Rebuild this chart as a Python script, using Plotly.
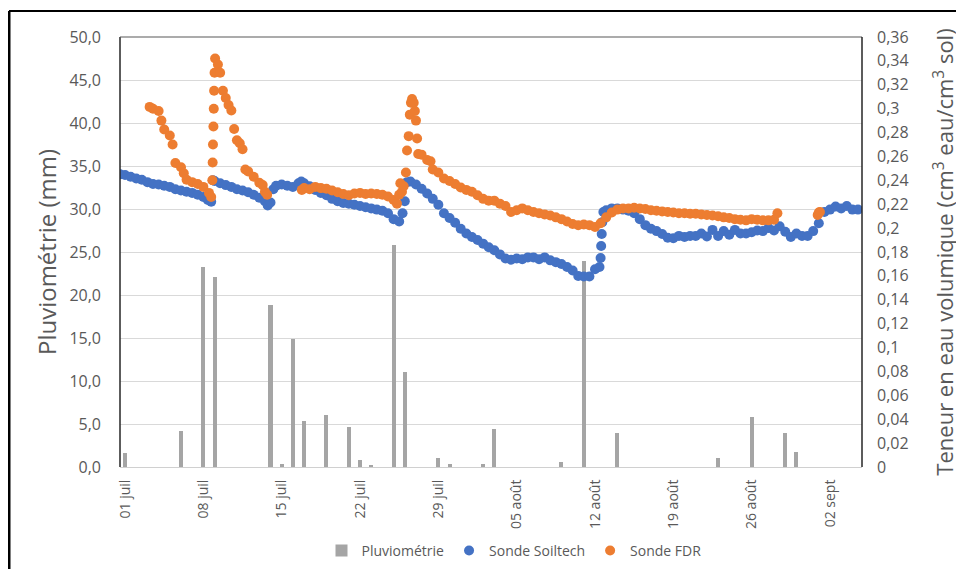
import pandas as pd
import plotly.graph_objects as go

# ---------------- DATA ----------------
origine = pd.Timestamp("2021-07-01")

# Pluviométrie journalière (mm)
pluie_dates = ["2021-07-01", "2021-07-06", "2021-07-08", "2021-07-09", "2021-07-14", "2021-07-15",
               "2021-07-16", "2021-07-17", "2021-07-19", "2021-07-21", "2021-07-22", "2021-07-23",
               "2021-07-25", "2021-07-26", "2021-07-29", "2021-07-30", "2021-08-02", "2021-08-03",
               "2021-08-09", "2021-08-11", "2021-08-14", "2021-08-23", "2021-08-26", "2021-08-29",
               "2021-08-30"]
pluie_mm = [1.6, 4.2, 23.3, 22.1, 18.8, 0.4,
            14.9, 5.3, 6.1, 4.7, 0.8, 0.2,
            25.8, 11.1, 1.0, 0.4, 0.4, 4.4,
            0.6, 24.0, 3.9, 1.0, 5.8, 3.9,
            1.7]

# Sonde Soiltech : jours depuis le 1er juillet, teneur en eau (cm3/cm3)
soiltech_jours = [-0.45, 0.0, 0.5, 1.0, 1.5, 2.0, 2.5, 3.0, 3.5, 4.0, 4.5, 5.0, 5.5, 6.0, 6.5, 7.0,
                  7.4, 7.7, 7.85, 8.0, 8.5, 9.0, 9.5, 10.0, 10.5, 11.0, 11.5, 12.0, 12.5, 12.75, 13.0,
                  13.25, 13.5, 14.0, 14.5, 15.0, 15.5, 15.75, 16.0, 16.5, 17.0, 17.5, 18.0, 18.5,
                  19.0, 19.5, 20.0, 20.5, 21.0, 21.5, 22.0, 22.5, 23.0, 23.5, 24.0, 24.5, 24.8,
                  25.0, 25.2, 25.5, 26.0, 26.5, 27.0, 27.5, 28.0, 28.5, 29.0, 29.5, 30.0, 30.5,
                  31.0, 31.5, 32.0, 32.5, 33.0, 33.5, 34.0, 34.5, 35.0, 35.5, 36.0, 36.5, 37.0,
                  37.5, 38.0, 38.5, 39.0, 39.5, 40.0, 40.5, 41.0, 41.5, 42.0, 42.4, 42.5, 42.55,
                  42.6, 42.65, 42.75, 43.0, 43.5, 44.0, 44.5, 45.0, 45.5, 46.0, 46.5, 47.0, 47.5,
                  48.0, 48.5, 49.0, 49.5, 50.0, 50.5, 51.0, 51.5, 52.0, 52.5, 53.0, 53.5, 54.0,
                  54.5, 55.0, 55.5, 56.0, 56.5, 57.0, 57.5, 58.0, 58.5, 59.0, 59.5, 60.0, 60.5,
                  61.0, 61.5, 62.0, 62.5, 63.0, 63.5, 64.0, 64.5, 65.0, 65.5]
soiltech_teneur = [0.245, 0.2445, 0.243, 0.2415, 0.2405, 0.2385, 0.237, 0.2365, 0.2355, 0.2345, 0.2325,
                   0.2315, 0.2305, 0.2295, 0.228, 0.226,
                   0.2235, 0.222, 0.240, 0.2395, 0.2375, 0.236, 0.2345, 0.2325, 0.2315, 0.230, 0.228,
                   0.2255, 0.2225, 0.219, 0.2215,
                   0.2325, 0.2355, 0.2365, 0.2355, 0.2345, 0.2375, 0.239, 0.2375, 0.235, 0.232, 0.2295,
                   0.2275, 0.2245,
                   0.2225, 0.221, 0.2205, 0.2195, 0.2185, 0.2175, 0.2165, 0.2155, 0.2145, 0.2125,
                   0.2075, 0.2055, 0.2125,
                   0.2225, 0.2385, 0.239, 0.2365, 0.233, 0.229, 0.2245, 0.2195, 0.2125, 0.2085, 0.2045,
                   0.1995, 0.1955,
                   0.1925, 0.190, 0.187, 0.184, 0.1815, 0.178, 0.1745, 0.1735, 0.1745, 0.174, 0.1755,
                   0.1755, 0.174,
                   0.1755, 0.173, 0.1715, 0.170, 0.1675, 0.1645, 0.160, 0.1595, 0.1595, 0.1655,
                   0.1675, 0.175, 0.185,
                   0.195, 0.205, 0.2135, 0.215, 0.2165, 0.2165, 0.2155, 0.2145, 0.2125, 0.2075,
                   0.2025, 0.1995, 0.1975,
                   0.195, 0.192, 0.1915, 0.1935, 0.1925, 0.1935, 0.1935, 0.1955, 0.193, 0.1985,
                   0.1935, 0.1975, 0.1945,
                   0.1985, 0.1955, 0.1955, 0.1965, 0.198, 0.1975, 0.200, 0.198, 0.2015, 0.197,
                   0.1925, 0.1955, 0.1935,
                   0.1935, 0.1975, 0.204, 0.2135, 0.2155, 0.218, 0.2165, 0.2185, 0.2155, 0.2155]

# Sonde FDR : jours depuis le 1er juillet, teneur en eau (cm3/cm3)
fdr_jours = [2.2, 2.5, 3.0, 3.25, 3.5, 4.0, 4.25, 4.5, 5.0, 5.25, 5.5, 6.0, 6.5, 7.0, 7.5, 7.7,
             7.8, 7.83, 7.86, 7.9, 7.93, 7.96, 8.0, 8.05, 8.3, 8.5, 8.75, 9.0, 9.25, 9.5, 9.75,
             10.0, 10.25, 10.5, 10.75, 11.0, 11.5, 12.0, 12.3, 12.5, 12.7,
             None,
             15.8, 16.0, 16.5, 17.0, 17.5, 18.0, 18.5, 19.0, 19.5, 20.0, 20.5, 21.0, 21.5, 22.0,
             22.5, 23.0, 23.5, 24.0, 24.3, 24.5, 24.6, 24.75, 24.9, 25.1, 25.2, 25.35, 25.45,
             25.55, 25.65, 25.8, 25.9, 26.0, 26.1, 26.2, 26.5, 27.0, 27.3, 27.5, 28.0, 28.5,
             29.0, 29.5, 30.0, 30.5, 31.0, 31.5, 32.0, 32.5, 33.0, 33.5, 34.0, 34.5, 35.0, 35.5,
             36.0, 36.5, 37.0, 37.5, 38.0, 38.5, 39.0, 39.5, 40.0, 40.5, 41.0, 41.5, 42.0, 42.5,
             43.0, 43.5, 44.0, 44.5, 45.0, 45.5, 46.0, 46.5, 47.0, 47.5, 48.0, 48.5, 49.0, 49.5,
             50.0, 50.5, 51.0, 51.5, 52.0, 52.5, 53.0, 53.5, 54.0, 54.5, 55.0, 55.5, 56.0, 56.5,
             57.0, 57.5, 58.0, 58.3,
             None,
             61.9, 62.0, 62.1]
fdr_teneur = [0.3015, 0.300, 0.298, 0.290, 0.2825, 0.2775, 0.270, 0.2545, 0.251, 0.246, 0.2405,
              0.2385, 0.237, 0.2345, 0.2295, 0.226,
              0.240, 0.255, 0.270, 0.285, 0.300, 0.315, 0.330, 0.342, 0.337, 0.330, 0.315, 0.309,
              0.303, 0.2985, 0.283,
              0.2735, 0.271, 0.266, 0.249, 0.2475, 0.243, 0.238, 0.236, 0.2305, 0.228,
              None,
              0.232, 0.2335, 0.2325, 0.2345, 0.2335, 0.233, 0.2315, 0.230, 0.2285, 0.2275, 0.229,
              0.2295, 0.2285, 0.229,
              0.2285, 0.228, 0.2265, 0.2235, 0.2205, 0.228, 0.2375, 0.2305, 0.235, 0.2465, 0.265,
              0.277, 0.295,
              0.305, 0.308, 0.305, 0.298, 0.290, 0.275, 0.262, 0.2615, 0.257, 0.256, 0.249,
              0.2465, 0.2415,
              0.2395, 0.237, 0.234, 0.232, 0.2305, 0.2275, 0.2245, 0.223, 0.223, 0.2205, 0.2185,
              0.2135, 0.215, 0.2165,
              0.215, 0.2135, 0.2125, 0.2115, 0.2105, 0.209, 0.2075, 0.2055, 0.2035, 0.2025,
              0.203, 0.2025, 0.201, 0.204,
              0.209, 0.213, 0.2155, 0.2165, 0.2165, 0.217, 0.2165, 0.216, 0.215, 0.2145, 0.214,
              0.2135, 0.213, 0.2125,
              0.2125, 0.212, 0.212, 0.2115, 0.211, 0.2105, 0.210, 0.209, 0.2085, 0.2075, 0.207,
              0.2065, 0.2075, 0.207,
              0.2065, 0.2065, 0.207, 0.2125,
              None,
              0.211, 0.213, 0.2135]

x_tick_dates = ["2021-07-01", "2021-07-08", "2021-07-15", "2021-07-22", "2021-07-29",
                "2021-08-05", "2021-08-12", "2021-08-19", "2021-08-26", "2021-09-02"]
x_tick_labels = ["01 juil", "08 juil", "15 juil", "22 juil", "29 juil",
                 "05 août", "12 août", "19 août", "26 août", "02 sept"]
y1_ticks = [0, 5, 10, 15, 20, 25, 30, 35, 40, 45, 50]
y1_labels = ["0,0", "5,0", "10,0", "15,0", "20,0", "25,0", "30,0", "35,0", "40,0", "45,0", "50,0"]
y2_ticks = [0, 0.02, 0.04, 0.06, 0.08, 0.1, 0.12, 0.14, 0.16, 0.18, 0.2, 0.22, 0.24, 0.26,
            0.28, 0.3, 0.32, 0.34, 0.36]
y2_labels = ["0", "0,02", "0,04", "0,06", "0,08", "0,1", "0,12", "0,14", "0,16", "0,18", "0,2",
             "0,22", "0,24", "0,26", "0,28", "0,3", "0,32", "0,34", "0,36"]


def to_time(jours):
    return [None if j is None else origine + pd.Timedelta(days=j) for j in jours]


# ---------------- FIGURE ----------------
GRAY_TXT = "#595959"
FONT = "Open Sans"
MSIZE = 10

fig = go.Figure()
fig.add_trace(go.Bar(
    x=pd.to_datetime(pluie_dates), y=pluie_mm, name="Pluviométrie",
    marker=dict(color="#A5A5A5", line=dict(width=0)),
    width=0.36 * 86400000, yaxis="y",
))
fig.add_trace(go.Scatter(
    x=to_time(soiltech_jours), y=soiltech_teneur, name="Sonde Soiltech", mode="markers",
    marker=dict(color="#4472C4", size=MSIZE, line=dict(width=0)), yaxis="y2",
))
fig.add_trace(go.Scatter(
    x=to_time(fdr_jours), y=fdr_teneur, name="Sonde FDR", mode="markers",
    marker=dict(color="#ED7D31", size=MSIZE, line=dict(width=0)), yaxis="y2",
))

x0 = origine - pd.Timedelta(days=0.45)
x1 = origine + pd.Timedelta(days=65.86)

fig.update_layout(
    width=956, height=561,
    margin=dict(l=112, r=102, t=29, b=102, autoexpand=False),
    paper_bgcolor="white", plot_bgcolor="white",
    font=dict(family=FONT, color=GRAY_TXT),
    showlegend=True,
    legend=dict(orientation="h", x=0.531, xanchor="center", y=-0.195, yanchor="middle",
                font=dict(size=14, color=GRAY_TXT), itemwidth=30, tracegroupgap=0),
    bargap=0,
    xaxis=dict(
        type="date", range=[x0, x1],
        tickmode="array", tickvals=pd.to_datetime(x_tick_dates), ticktext=x_tick_labels,
        tickangle=-90, tickfont=dict(size=14, color=GRAY_TXT), ticklabelstandoff=6,
        showgrid=False, zeroline=False,
        showline=True, linecolor="#d0d0d0", linewidth=1, ticks="",
    ),
    yaxis=dict(
        range=[0, 50], tickmode="array", tickvals=y1_ticks, ticktext=y1_labels,
        tickfont=dict(size=16, color=GRAY_TXT),
        showgrid=True, gridcolor="#d9d9d9", gridwidth=1, zeroline=False,
        showline=False, ticks="", ticklabelstandoff=18,
        title=dict(text="Pluviométrie (mm)", font=dict(size=24, color=GRAY_TXT), standoff=6),
    ),
    yaxis2=dict(
        range=[0, 0.36], overlaying="y", side="right",
        tickmode="array", tickvals=y2_ticks, ticktext=y2_labels,
        tickfont=dict(size=16, color=GRAY_TXT),
        showgrid=False, zeroline=False, showline=False, ticks="", ticklabelstandoff=14,
        title=dict(text="Teneur en eau volumique (cm<sup>3</sup> eau/cm<sup>3</sup> sol)",
                   font=dict(size=22, color=GRAY_TXT), standoff=30),
    ),
    shapes=[
        # cadre de la zone de tracé (gauche, haut, droite)
        dict(type="line", xref="paper", yref="paper", x0=0, x1=0, y0=0, y1=1,
             line=dict(color="#262626", width=1.5), layer="above"),
        dict(type="line", xref="paper", yref="paper", x0=0, x1=1, y0=1, y1=1,
             line=dict(color="#595959", width=1.2), layer="above"),
        dict(type="line", xref="paper", yref="paper", x0=1, x1=1, y0=0, y1=1,
             line=dict(color="#262626", width=1.5), layer="above"),
        # cadre extérieur de l'image
        dict(type="line", xref="paper", yref="paper", x0=-0.1496, x1=1.14, y0=1.0605, y1=1.0605,
             line=dict(color="black", width=2)),
        dict(type="line", xref="paper", yref="paper", x0=-0.1496, x1=-0.1496, y0=1.0605, y1=-0.25,
             line=dict(color="black", width=3)),
    ],
)

fig.write_html("out.html")
